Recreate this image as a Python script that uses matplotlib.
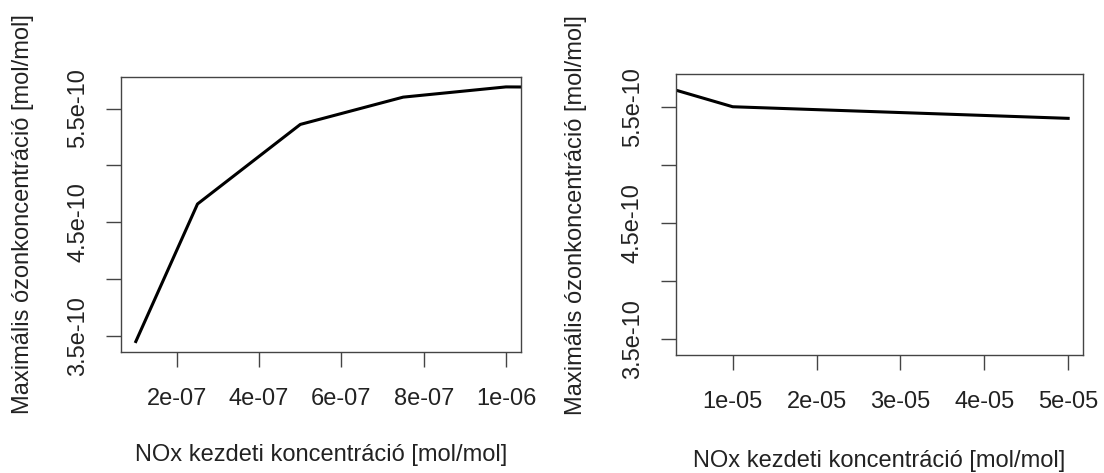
import numpy as np
import matplotlib
matplotlib.use('Agg')
import matplotlib.pyplot as plt

# NOx initial concentration vs max ozone concentration (R base-graphics look)
nox = [1e-7, 2.5e-7, 5e-7, 7.5e-7, 1e-6, 1e-5, 2e-5, 3e-5, 4e-5, 5e-5]
ozon = [3.45e-10, 4.66e-10, 5.36e-10, 5.60e-10, 5.69e-10,
        5.50e-10, 5.475e-10, 5.45e-10, 5.425e-10, 5.40e-10]

yticks = [3.5e-10, 4.0e-10, 4.5e-10, 5.0e-10, 5.5e-10]
ytick_labels = ['3.5e-10', '', '4.5e-10', '', '5.5e-10']

xrange_left = (1e-7, 1e-6)
xticks_left = [2e-7, 4e-7, 6e-7, 8e-7, 1e-6]
xlabels_left = ['2e-07', '4e-07', '6e-07', '8e-07', '1e-06']

xrange_right = (5e-6, 5e-5)
xticks_right = [1e-5, 2e-5, 3e-5, 4e-5, 5e-5]
xlabels_right = ['1e-05', '2e-05', '3e-05', '4e-05', '5e-05']

xlab = 'NOx kezdeti koncentráció [mol/mol]'
ylab = 'Maximális ózonkoncentráció [mol/mol]'

plt.rcParams['font.family'] = ['Liberation Sans', 'DejaVu Sans']

def r_pad(lo, hi):
	# R's default 4% axis extension
	d = (hi - lo) * 0.04
	return lo - d, hi + d

fig = plt.figure(figsize=(11.04, 4.73), dpi=100)
ax1 = fig.add_axes([0.1096, 0.2564, 0.3621, 0.5814])
ax2 = fig.add_axes([0.6120, 0.2495, 0.3692, 0.5934])

ylim = r_pad(min(ozon), max(ozon))
box = '#444444'

for ax, xr, xt, xl in [(ax1, xrange_left, xticks_left, xlabels_left),
                       (ax2, xrange_right, xticks_right, xlabels_right)]:
	ax.plot(nox, ozon, color='black', lw=2.2, solid_joinstyle='round')
	ax.set_xlim(*r_pad(*xr))
	ax.set_ylim(*ylim)
	ax.set_xticks(xt)
	ax.set_xticklabels(xl, fontsize=17, color='#222222')
	ax.set_yticks(yticks)
	ax.set_yticklabels(ytick_labels, fontsize=17, rotation=90, va='center', color='#222222')
	ax.tick_params(direction='out', length=10.8, width=1.0, color=box)
	ax.tick_params(axis='x', pad=15)
	ax.tick_params(axis='y', pad=12)
	for s in ax.spines.values():
		s.set_color(box)
		s.set_linewidth(1.0)
	ax.set_xlabel(xlab, fontsize=17, color='#222222')
	ax.xaxis.set_label_coords(0.5, -0.376)
	ax.xaxis.label.set_va('center')
	ax.set_ylabel(ylab, fontsize=17, color='#222222')
	ax.yaxis.set_label_coords(-0.245, 0.5)
	ax.yaxis.label.set_va('center')

fig.savefig('out.png', dpi=100)
